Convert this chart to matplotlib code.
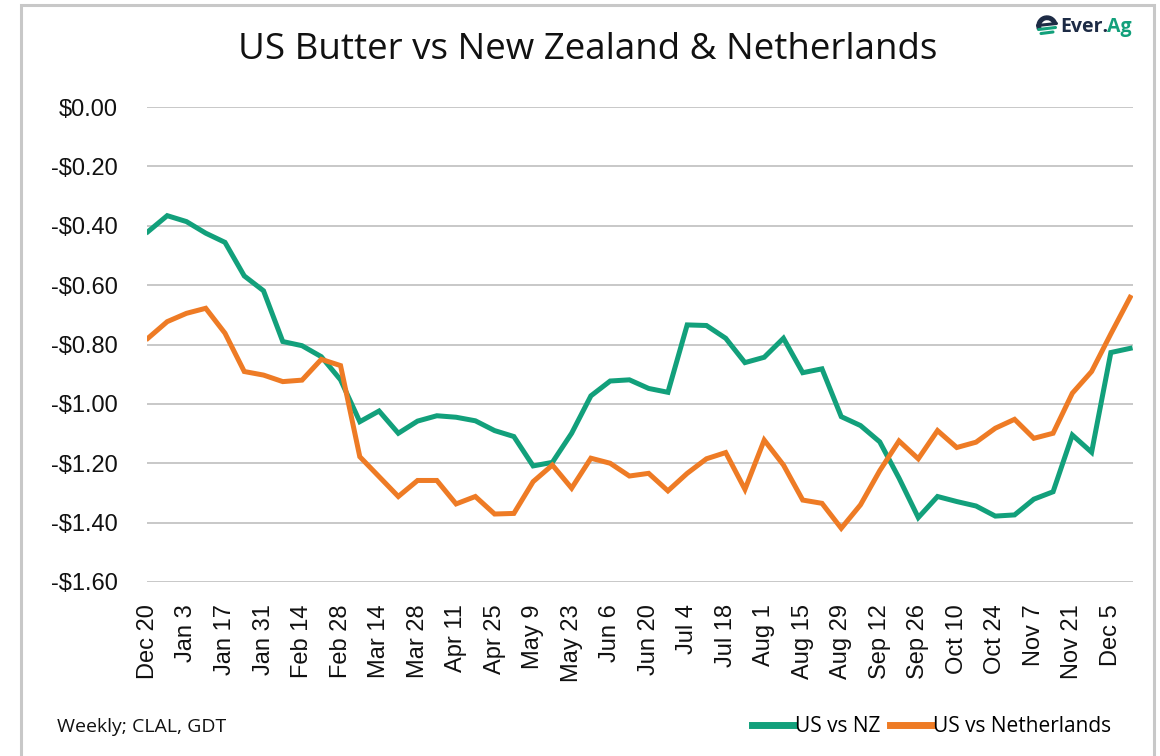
import matplotlib
matplotlib.use('Agg')
from matplotlib import pyplot as plt
from matplotlib.ticker import FuncFormatter
from matplotlib.patches import Rectangle, Wedge
import numpy as np

# weekly spreads, $/lb, Dec 20 through Dec 12
us_vs_nz = [-0.42, -0.366, -0.386, -0.425, -0.456, -0.569, -0.619, -0.79, -0.804, -0.841,
            -0.919, -1.06, -1.024, -1.099, -1.058, -1.04, -1.045, -1.057, -1.09, -1.11,
            -1.209, -1.197, -1.099, -0.973, -0.923, -0.919, -0.948, -0.961, -0.734, -0.736,
            -0.779, -0.861, -0.843, -0.779, -0.895, -0.882, -1.043, -1.073, -1.128, -1.25,
            -1.383, -1.312, -1.329, -1.344, -1.378, -1.374, -1.321, -1.296, -1.105, -1.163,
            -0.827, -0.813]
us_vs_nl = [-0.779, -0.723, -0.695, -0.678, -0.762, -0.891, -0.903, -0.925, -0.92, -0.85,
            -0.871, -1.178, -1.245, -1.312, -1.258, -1.258, -1.337, -1.312, -1.371, -1.369,
            -1.262, -1.206, -1.284, -1.183, -1.2, -1.243, -1.234, -1.293, -1.234, -1.185,
            -1.164, -1.288, -1.122, -1.206, -1.324, -1.335, -1.419, -1.34, -1.225, -1.125,
            -1.185, -1.09, -1.147, -1.129, -1.082, -1.052, -1.116, -1.099, -0.964, -0.891,
            -0.764, -0.641]
tick_labels = ['Dec 20', 'Jan 3', 'Jan 17', 'Jan 31', 'Feb 14', 'Feb 28', 'Mar 14', 'Mar 28',
               'Apr 11', 'Apr 25', 'May 9', 'May 23', 'Jun 6', 'Jun 20', 'Jul 4', 'Jul 18',
               'Aug 1', 'Aug 15', 'Aug 29', 'Sep 12', 'Sep 26', 'Oct 10', 'Oct 24', 'Nov 7',
               'Nov 21', 'Dec 5']
y_ticks = [0.0, -0.2, -0.4, -0.6, -0.8, -1.0, -1.2, -1.4, -1.6]

GREEN = '#12a07b'
ORANGE = '#ee7b25'
NAVY = '#1d2b45'

plt.rcParams['font.family'] = ['Liberation Sans', 'DejaVu Sans']

fig = plt.figure(figsize=(11.6, 7.56), dpi=100)
ax = fig.add_axes([147 / 1160, 1 - 582 / 756, (1133 - 147) / 1160, (582 - 107) / 756])

weeks = np.arange(len(us_vs_nz))
ax.plot(weeks, us_vs_nz, color=GREEN, lw=3.6, label='US vs NZ', solid_joinstyle='miter')
ax.plot(weeks, us_vs_nl, color=ORANGE, lw=3.6, label='US vs Netherlands', solid_joinstyle='miter')

ax.set_xlim(-0.05, 51.15)
ax.set_ylim(-1.6, 0.0)
ax.set_yticks(y_ticks)
ax.yaxis.set_major_formatter(FuncFormatter(
    lambda v, p: '$0.00' if abs(v) < 1e-9 else ('-$%.2f' % abs(v) if v < 0 else '$%.2f' % v)))
ax.set_xticks(np.arange(0, len(us_vs_nz), 2))
ax.set_xticklabels(tick_labels, rotation=90)
ax.tick_params(axis='both', length=0, labelsize=17, colors='#111111')
ax.tick_params(axis='y', pad=21)
ax.tick_params(axis='x', pad=16)
for lab in ax.get_xticklabels():
    lab.set_verticalalignment('top')
ax.grid(axis='y', color='#c4c4c4', lw=1.3)
ax.set_axisbelow(True)
for s in ax.spines.values():
    s.set_visible(False)

fig.text(588 / 1160, 1 - 50 / 756, 'US Butter vs New Zealand & Netherlands',
         ha='center', va='center', fontsize=26.5, family='Open Sans', color='#111111')
fig.text(57 / 1160, 1 - 727 / 756, 'Weekly; CLAL, GDT', ha='left', va='center',
         fontsize=14, family='Open Sans', color='#111111')

leg = fig.legend(loc='center right', bbox_to_anchor=(1130 / 1160, 1 - 727 / 756), ncol=2,
                 frameon=False, handlelength=2.0, handletextpad=0.05, columnspacing=0.5,
                 prop={'family': 'Open Sans', 'size': 15})
for h in leg.legend_handles:
    h.set_linewidth(5)

# frame around the whole graphic
fig.patches.append(Rectangle((21 / 1160, -0.05), (1154 - 21) / 1160, 1.05 - 5 / 756,
                             transform=fig.transFigure, fill=False, ec='#c8c8c8', lw=2.2))

# Ever.Ag mark
logo_ax = fig.add_axes([1036 / 1160, 1 - 38 / 756, 22 / 1160, 24 / 756])
logo_ax.set_xlim(-1.1, 1.1)
logo_ax.set_ylim(-1.1, 1.1)
logo_ax.set_aspect('equal')
logo_ax.axis('off')
logo_ax.add_patch(Wedge((0, 0), 1.0, 20, 200, width=0.35, color=NAVY))
logo_ax.plot([-0.95, 0.95], [0.05, 0.25], color=NAVY, lw=2.2, solid_capstyle='round')
logo_ax.plot([-0.85, 0.85], [-0.35, -0.15], color=GREEN, lw=2.2, solid_capstyle='round')
logo_ax.plot([-0.6, 0.6], [-0.75, -0.6], color=GREEN, lw=2.2, solid_capstyle='round')
t1 = fig.text(1060 / 1160, 1 - 27 / 756, 'Ever.', ha='left', va='center', fontsize=14,
              family='Open Sans', weight='bold', color=NAVY)
fig.canvas.draw()
bb = t1.get_window_extent()
fig.text(bb.x1 / 1160 - 0.001, 1 - 27 / 756, 'Ag', ha='left', va='center', fontsize=14,
         family='Open Sans', weight='bold', color=GREEN)

fig.savefig('out.png', dpi=100, facecolor='white')
